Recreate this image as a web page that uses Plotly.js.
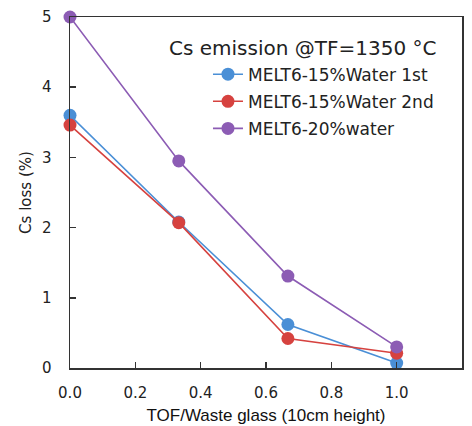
<!DOCTYPE html>
<html><head><meta charset="utf-8">
<script src="https://cdn.plot.ly/plotly-3.0.1.min.js"></script>
<style>html,body{margin:0;padding:0;background:#fff}#chart{width:472px;height:426px}</style>
</head><body><div id="chart"></div>
<script>
var xValues = [0, 0.333, 0.667, 1.0];
var water15First = [3.60, 2.08, 0.62, 0.07];
var water15Second = [3.46, 2.07, 0.42, 0.21];
var water20 = [5.00, 2.95, 1.31, 0.30];
var seriesNames = ["MELT6-15%Water 1st", "MELT6-15%Water 2nd", "MELT6-20%water"];
var xTicks = [0, 0.2, 0.4, 0.6, 0.8, 1.0, 1.2];
var xTickText = ["0.0", "0.2", "0.4", "0.6", "0.8", "1.0", "1.2"];
var yTicks = [0, 1, 2, 3, 4, 5];

var colors = ["#4a8fd6", "#d6423f", "#8c5cb4"];
var seriesData = [water15First, water15Second, water20];
var traces = seriesData.map(function (ys, i) {
  return {
    x: xValues, y: ys, name: seriesNames[i], type: "scatter", mode: "lines+markers",
    legendgroup: "g" + i,
    line: {color: colors[i], width: 1.6},
    marker: {color: colors[i], size: 13},
    cliponaxis: false
  };
});

var gill = "'DejaVu Sans', sans-serif";
var layout = {
  width: 472, height: 426,
  margin: {l: 70, r: 10, t: 17, b: 58},
  paper_bgcolor: "#fff", plot_bgcolor: "#fff",
  font: {family: gill, color: "#222"},
  showlegend: true,
  legend: {
    x: 0.352, y: 0.887, xanchor: "left", yanchor: "top",
    bgcolor: "rgba(0,0,0,0)", tracegroupgap: 2,
    font: {family: gill, size: 17, color: "#222"}
  },
  xaxis: {
    range: [0, 1.2], tickvals: xTicks, ticktext: xTickText,
    ticks: "inside", ticklen: 6, tickcolor: "#333", tickwidth: 1.5,
    showline: true, linecolor: "#333", linewidth: 1.5, mirror: true,
    showgrid: false, zeroline: false,
    ticklabelstandoff: 10,
    tickfont: {family: gill, size: 15, color: "#222"},
    title: {text: "TOF/Waste glass (10cm height)", font: {family: "Arial, 'Liberation Sans', sans-serif", size: 17, color: "#111"}, standoff: 8}
  },
  yaxis: {
    range: [0, 5], tickvals: yTicks,
    ticks: "inside", ticklen: 6, tickcolor: "#333", tickwidth: 1.5,
    showline: true, linecolor: "#333", linewidth: 1.5, mirror: true,
    showgrid: false, zeroline: false,
    ticklabelstandoff: 14,
    tickfont: {family: gill, size: 15, color: "#222"},
    title: {text: "Cs loss (%)", font: {family: gill, size: 15, color: "#222"}, standoff: 6}
  },
  annotations: [{
    text: "Cs emission @TF=1350 °C", xref: "paper", yref: "paper",
    x: 0.592, y: 0.912, xanchor: "center", yanchor: "middle", showarrow: false,
    font: {family: gill, size: 20, color: "#222"}
  }]
};

Plotly.newPlot("chart", traces, layout, {displayModeBar: false, staticPlot: true});
</script></body></html>
